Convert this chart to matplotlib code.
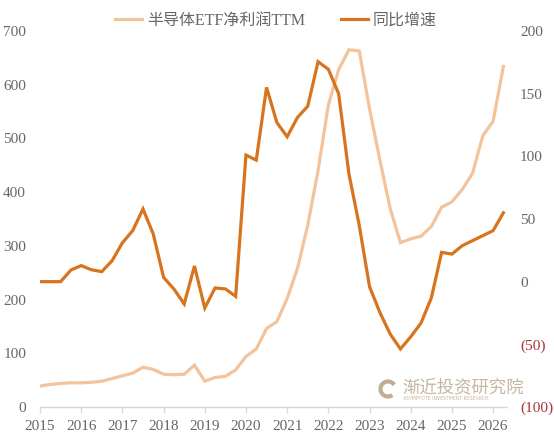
import numpy as np
import matplotlib
matplotlib.use("Agg")
import matplotlib.pyplot as plt
from matplotlib.ticker import FuncFormatter, FixedLocator
from matplotlib.patches import Arc

# ---- data (quarterly, first point at 2015) ----
profit_ttm = [39, 42, 44, 45, 45, 46, 48, 53, 58, 63, 74, 70, 61, 60, 61, 78,
              48, 55, 57, 69, 94, 108, 146, 159, 202, 258, 338, 440, 562, 628,
              665, 663, 555, 460, 370, 306, 313, 318, 336, 372, 382, 405, 435,
              505, 532, 634]
yoy_growth = [0, 0, 0, 9.3, 12.8, 9.5, 8, 16.7, 31, 40.7, 58, 38, 3.4, -5.8,
              -17.8, 12.5, -21, -5, -5.8, -11.7, 101, 97, 155, 127, 115.6, 131,
              140, 175.5, 169.5, 150, 86, 45, -4, -24.5, -41.7, -53.7, -44, -33,
              -13, 23.4, 22, 28.7, 32.7, 36.7, 40.7, 55]
year_ticks = list(range(2015, 2027))
left_ticks = [0, 100, 200, 300, 400, 500, 600, 700]
right_ticks = [-100, -50, 0, 50, 100, 150, 200]
label_profit = "半导体ETF净利润TTM"
label_growth = "同比增速"

x = 2015 + 0.25 * np.arange(len(profit_ttm))

LIGHT = "#F3C39C"
DARK = "#D8741E"
GRAY = "#666666"
SERIF = "Liberation Serif"

fig = plt.figure(figsize=(5.54, 4.42), dpi=100)
ax = fig.add_axes([40 / 554, 35 / 442, 466.7 / 554, 376 / 442])
ax2 = ax.twinx()

l1, = ax.plot(x, profit_ttm, color=LIGHT, lw=2.3, solid_joinstyle="miter",
              label=label_profit)
l2, = ax2.plot(x, yoy_growth, color=DARK, lw=2.3, solid_joinstyle="miter",
               label=label_growth)

ax.set_xlim(2015, 2026.33)
ax.set_ylim(0, 700)
ax2.set_ylim(-100, 200)

ax.xaxis.set_major_locator(FixedLocator(year_ticks))
ax.set_xticklabels([str(y) for y in year_ticks])
ax.yaxis.set_major_locator(FixedLocator(left_ticks))
ax2.yaxis.set_major_locator(FixedLocator(right_ticks))
ax2.yaxis.set_major_formatter(
    FuncFormatter(lambda v, p: f"({abs(int(v))})" if v < 0 else f"{int(v)}"))

for a in (ax, ax2):
    for s in ("top", "left", "right", "bottom"):
        a.spines[s].set_visible(False)
ax.spines["bottom"].set_visible(True)
ax.spines["bottom"].set_color("#D9D9D9")
ax.spines["bottom"].set_linewidth(1.0)

ax.tick_params(axis="x", length=4, width=1, color="#D9D9D9", pad=5,
               labelsize=11, labelcolor=GRAY)
ax.tick_params(axis="y", length=0, pad=10, labelsize=11, labelcolor=GRAY)
ax2.tick_params(axis="y", length=0, pad=9.5, labelsize=11, labelcolor=GRAY)
for lab in ax.get_xticklabels() + ax.get_yticklabels() + ax2.get_yticklabels():
    lab.set_family(SERIF)
for lab, v in zip(ax2.get_yticklabels(), right_ticks):
    if v < 0:
        lab.set_color("#A8343A")

ax.set_zorder(1)
ax2.set_zorder(2)
ax.patch.set_visible(False)

fig.legend(handles=[l1, l2], loc="center", bbox_to_anchor=(0.498, 0.953),
           ncol=2, frameon=False, handlelength=1.7, handletextpad=0.3,
           columnspacing=2.2, labelcolor=GRAY,
           prop={"family": [SERIF, "Noto Sans CJK SC"], "size": 11.5})

# watermark
WM = "#BFAE92"
fig.text(402 / 554, 1 - 387 / 442, "渐近投资研究院", color=WM, fontsize=12.5,
         family="Noto Sans CJK SC", ha="left", va="center", alpha=0.9)
fig.text(403 / 554, 1 - 398.5 / 442, "ASYMPTOTE INVESTMENT RESEARCH", color=WM,
         fontsize=3.3, family="DejaVu Sans", ha="left", va="center", alpha=0.9)
fig.patches.append(Arc((388 / 554, 1 - 389 / 442), 15 / 554, 15 / 442,
                       theta1=40, theta2=300, color=WM, lw=3,
                       transform=fig.transFigure, figure=fig))

fig.savefig("out.png", dpi=100)
